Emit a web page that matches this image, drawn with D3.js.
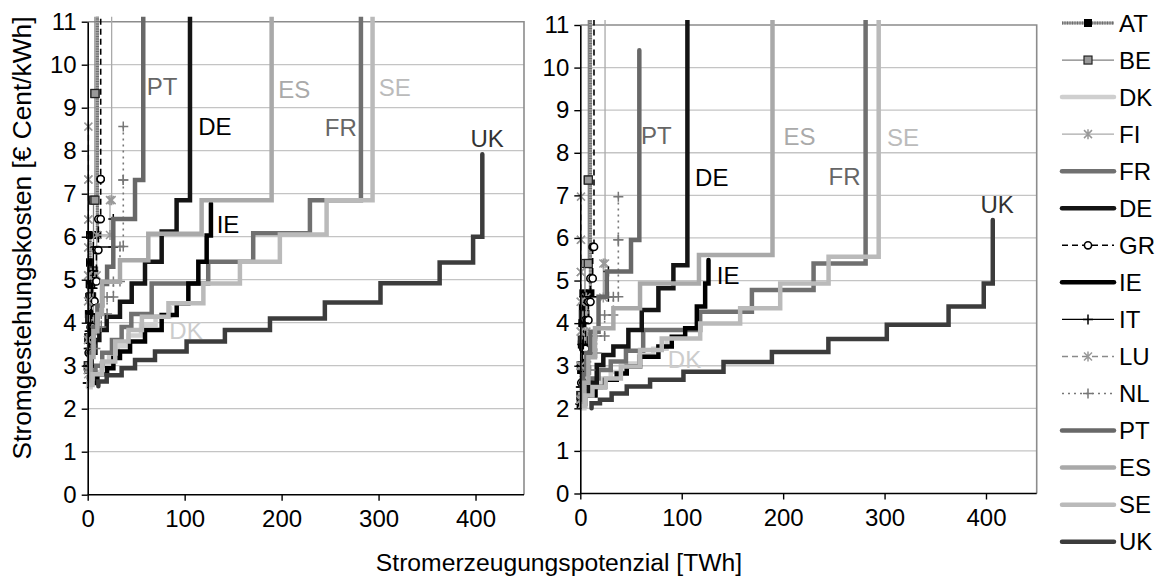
<!DOCTYPE html>
<html>
<head>
<meta charset="utf-8">
<script src="https://cdn.jsdelivr.net/npm/d3@7"></script>
<style>
body{margin:0;background:#fff;}
text{font-family:"Liberation Sans",Arial,sans-serif;}
</style>
</head>
<body>
<svg id="chart" width="1165" height="578"></svg>
<script>
const countries = ["AT","BE","DK","FI","FR","DE","GR","IE","IT","LU","NL","PT","ES","SE","UK"];
const yTicks = [0,1,2,3,4,5,6,7,8,9,10,11];
const xTicks = [0,100,200,300,400];

// step points [TWh, cost]: horizontal first, then the riser up to the next cost
// left panel
const AT_L = [[0.3,2.9],[0.8,3.6],[1.2,4.2],[1.6,4.6],[2,4.9],[2.4,5.4],[2.4,6.04],[10,12]];
const BE_L = [[0.5,3.0],[1,3.65],[2,4.1],[3,4.6],[4,5.2],[6,6.85],[7.5,9.33],[7.5,12]];
const DK_L = [[0,2.5],[3,2.65],[8,2.85],[14,3.05],[22,3.25],[31,3.45],[42,3.7],[55,3.95],[70,4.15],[85,4.35]];
const FI_L = [[0.5,2.8],[3,3.8],[6,5.1],[9.3,6.04],[23,6.85],[24.7,12]];
const FR_L = [[2,2.7],[8,3.0],[15,3.3],[25,3.6],[35,3.9],[45,4.2],[66,4.91],[124.3,5.42],[170.7,6.08],[229.2,6.85],[281.8,12]];
const DE_L = [[1,3.0],[4,3.3],[8,3.6],[12,3.83],[19.6,4.14],[33.3,4.49],[45.4,4.91],[59.1,5.42],[76.3,6.12],[91.7,6.85],[105.5,12]];
const GR_L = [[1,3.3],[3,3.9],[5,4.5],[7,4.96],[9,5.69],[11,6.41],[13.4,7.34],[13.4,12]];
const IE_L = [[3,2.6],[10,2.8],[20,2.94],[26.5,3.18],[33.3,3.33],[43.7,3.56],[59.1,3.83],[76.3,4.18],[91.8,4.45],[103.8,4.91],[114.1,5.42],[122.7,6.03],[127.1,6.78]];
const IT_L = [[0,2.6],[0.5,3.0],[1,3.4],[2,3.8],[3,4.2],[4,4.8],[5,5.2],[5.8,5.76],[26.4,6.41]];
const LU_L = [[0,2.9],[0.3,3.6],[0.5,4.5],[0.5,5.1],[0.6,5.75],[0.6,6.4],[0.7,7.33],[0.7,8.56]];
const NL_L = [[1,2.9],[4,3.4],[8,3.9],[14,4.2],[20,4.6],[26.5,4.96],[33.3,5.77],[36.7,7.32],[36.7,8.56]];
const PT_L = [[1,2.7],[3,3.3],[6,3.9],[10,4.4],[15,4.9],[20,5.3],[26.4,6.41],[48.8,7.32],[57.3,12]];
const ES_L = [[0.5,2.6],[3,3.2],[6,3.8],[10,4.2],[14.7,4.95],[33.3,5.45],[62.5,6.07],[117.5,6.85],[189.7,12]];
const SE_L = [[1,2.55],[5,2.8],[15,3.1],[28.4,3.56],[42.1,3.83],[55.9,4.14],[83.3,4.45],[119.3,4.91],[157,5.42],[198.2,6.05],[246.4,6.85],[293.8,12]];
const UK_L = [[11,2.52],[11,2.63],[19.6,2.78],[35,2.94],[48.8,3.13],[69.4,3.33],[102,3.56],[141.5,3.83],[188,4.1],[244.6,4.47],[302,4.92],[363,5.4],[397.5,6.0],[407,7.92]];

// right panel
const AT_R = [[0.3,2.1],[0.8,2.9],[1.5,3.5],[2,4.0],[2.5,4.4],[3,4.7],[10,12]];
const BE_R = [[0.5,2.3],[1,3.0],[2,3.6],[3,4.2],[4.6,5.4],[7.9,7.36],[7.9,12]];
const DK_R = [[0,2.0],[4,2.3],[10,2.5],[20,2.7],[30,2.85],[45,3.05],[58,3.25],[72,3.4],[85,3.6]];
const FI_R = [[0.5,2.2],[2,3.0],[4,3.8],[6,4.6],[22.7,5.4],[24.4,12]];
const FR_R = [[1,2.1],[5,2.4],[10,2.7],[18,2.9],[30,3.1],[45,3.35],[62,3.84],[118.2,4.27],[169.2,4.78],[230,5.4],[281.3,12]];
const DE_R = [[2,2.3],[8,2.6],[16.2,3.02],[22.7,3.25],[32.6,3.45],[47.4,3.84],[60.6,4.31],[77,4.82],[91.8,5.36],[105.6,12]];
const GR_R = [[1,2.6],[3,3.4],[5,4.07],[8,4.5],[10,5.05],[12.2,5.79],[13.5,12]];
const IE_R = [[5,2.3],[15,2.5],[24.4,2.67],[35.9,2.82],[45.8,2.98],[58.9,3.21],[77,3.45],[90.2,3.68],[103.4,3.88],[114.9,4.39],[123.1,4.93],[126.4,5.48]];
const IT_R = [[0,2.1],[0.5,2.5],[1,3.0],[2,3.5],[3,4.0],[4,4.62],[27.7,5.21]];
const LU_R = [[0,2.2],[0.3,3.0],[0.4,3.8],[0.5,4.5],[0.5,5.2],[0.6,5.96],[0.7,6.97]];
const NL_R = [[1,2.3],[5,2.9],[10,3.3],[16,3.7],[24,4.19],[32.6,4.62],[37.5,5.96],[37.5,6.97]];
const PT_R = [[1,2.2],[3,2.8],[6,3.3],[10,3.8],[18,4.62],[26,5.21],[50,5.95],[58.2,10.41]];
const ES_R = [[1,2.1],[4,2.6],[8,3.2],[14.5,3.88],[32.6,4.35],[58.9,4.93],[117,5.6],[189.5,12]];
const SE_R = [[1,2.05],[5,2.3],[12,2.5],[25,2.7],[40,2.98],[58.9,3.37],[80.3,3.64],[118.2,3.99],[157.6,4.35],[197.1,4.93],[244.8,5.56],[294.2,12]];
const UK_R = [[11.1,2.0],[11.1,2.12],[19.4,2.2],[30.9,2.35],[45.8,2.51],[68.8,2.67],[101.7,2.86],[141.2,3.09],[188.9,3.32],[244.6,3.63],[302.2,3.96],[363.1,4.39],[397.8,4.93],[406.7,6.42]];

// in-plot country labels [name, TWh, cost]
const labelsL = [["PT",60.8,9.3],["DE",114,8.37],["ES",196.5,9.22],["SE",300.3,9.27],["FR",244.6,8.34],["UK",394.8,8.09],["IE",133,6.09],["DK",84.2,3.62]];
const labelsR = [["PT",59.9,8.2],["DE",113.2,7.23],["ES",200.4,8.19],["SE",302.4,8.16],["FR",244.8,7.24],["UK",394.6,6.59],["IE",134.6,4.91],["DK",86.3,2.94]];

const seriesL = {AT:AT_L,BE:BE_L,DK:DK_L,FI:FI_L,FR:FR_L,DE:DE_L,GR:GR_L,IE:IE_L,IT:IT_L,LU:LU_L,NL:NL_L,PT:PT_L,ES:ES_L,SE:SE_L,UK:UK_L};
const seriesR = {AT:AT_R,BE:BE_R,DK:DK_R,FI:FI_R,FR:FR_R,DE:DE_R,GR:GR_R,IE:IE_R,IT:IT_R,LU:LU_R,NL:NL_R,PT:PT_R,ES:ES_R,SE:SE_R,UK:UK_R};

const style = {
	AT:{color:"#a0a0a0",width:3.2,dash:null,marker:"sqBlack",hatch:true},
	BE:{color:"#808080",width:1.3,dash:null,marker:"sqGray"},
	DK:{color:"#cfcfcf",width:4.5,dash:null},
	FI:{color:"#aaaaaa",width:1.3,dash:null,marker:"star"},
	FR:{color:"#707070",width:4.5,dash:null},
	DE:{color:"#141414",width:4.5,dash:null},
	GR:{color:"#000000",width:1.6,dash:"6,4",marker:"circle"},
	IE:{color:"#000000",width:4.5,dash:null},
	IT:{color:"#000000",width:1.3,dash:null,marker:"plus"},
	LU:{color:"#8a8a8a",width:1.6,dash:"6,4",marker:"star"},
	NL:{color:"#777777",width:1.6,dash:"2,4",marker:"plus"},
	PT:{color:"#686868",width:4.5,dash:null},
	ES:{color:"#a9a9a9",width:4.5,dash:null},
	SE:{color:"#bababa",width:4.5,dash:null},
	UK:{color:"#3c3c3c",width:4.5,dash:null}
};
const labelColor = {PT:"#666",DE:"#000",ES:"#aaa",SE:"#bbb",FR:"#666",UK:"#333",IE:"#000",DK:"#ccc"};

const svg = d3.select("#chart");
const fontSize = 24;

const addMarker = (g,type,px,py) => {
	if(!type) return;
	if(type === "sqBlack"){
		g.append("rect").attr("x",px-4).attr("y",py-4).attr("width",8).attr("height",8).attr("fill","#000");
	} else if(type === "sqGray"){
		g.append("rect").attr("x",px-4).attr("y",py-4).attr("width",8).attr("height",8)
			.attr("fill","#999").attr("stroke","#222").attr("stroke-width",1.2);
	} else if(type === "circle"){
		g.append("circle").attr("cx",px).attr("cy",py).attr("r",3.6)
			.attr("fill","#fff").attr("stroke","#000").attr("stroke-width",1.6);
	} else if(type === "star"){
		g.append("path").attr("d",`M${px-4},${py-4}L${px+4},${py+4}M${px-4},${py+4}L${px+4},${py-4}M${px},${py-5}V${py+5}`)
			.attr("stroke","#999").attr("stroke-width",1.5).attr("fill","none");
	} else if(type === "plus"){
		g.append("path").attr("d",`M${px-5},${py}H${px+5}M${px},${py-5}V${py+5}`)
			.attr("stroke",g.attr("data-col")).attr("stroke-width",1.5).attr("fill","none");
	}
}

const drawPanel = (p) => {
	let x = d3.scaleLinear().domain([0,450]).range([p.left,p.right]);
	let y = d3.scaleLinear().domain([0,11]).range([p.bottom,p.top]);
	let g = svg.append("g");

	// grid lines
	g.selectAll("line.grid").data(yTicks.filter(d => d > 0 && d < 11)).join("line")
		.attr("x1",p.left).attr("x2",p.right)
		.attr("y1",d => y(d)).attr("y2",d => y(d))
		.attr("stroke","#c4c4c4").attr("stroke-width",1.3);
	g.append("path")
		.attr("d",`M${p.left},${p.top}H${p.right}V${p.bottom}`)
		.attr("fill","none").attr("stroke","#8c8c8c").attr("stroke-width",1.6);

	// clip slightly above the plot top, as in the original
	svg.append("clipPath").attr("id","clip"+p.id)
		.append("rect").attr("x",p.left - 12).attr("y",p.top - 5)
		.attr("width",p.right - p.left + 12).attr("height",p.bottom - p.top + 12);

	let line = d3.line().x(d => x(d[0])).y(d => y(d[1])).curve(d3.curveStepAfter);
	let lines = g.append("g").attr("clip-path",`url(#clip${p.id})`);
	countries.forEach(c => {
		let s = style[c];
		let pts = p.series[c];
		let sg = lines.append("g").attr("data-col",s.color);
		sg.append("path").datum(pts).attr("d",line)
			.attr("fill","none").attr("stroke",s.color).attr("stroke-width",s.width)
			.attr("stroke-dasharray",s.dash).attr("stroke-linejoin","miter")
			.attr("stroke-linecap",s.width > 3 && !s.hatch ? "round" : "butt");
		if(s.hatch){
			sg.append("path").datum(pts).attr("d",line)
				.attr("fill","none").attr("stroke","#6e6e6e").attr("stroke-width",s.width)
				.attr("stroke-dasharray","1,1.5");
		}
		if(s.marker){
			// markers at both corners of every step
			pts.forEach((d,i) => {
				if(i > 0 && pts[i-1][1] <= 11) addMarker(sg,s.marker,x(d[0]),y(pts[i-1][1]));
				if(d[1] <= 11) addMarker(sg,s.marker,x(d[0]),y(d[1]));
			});
		}
	});

	// axes
	let yAxis = d3.axisLeft(y).tickValues(yTicks).tickSize(6).tickSizeOuter(0).tickPadding(5);
	let ya = g.append("g").attr("transform",`translate(${p.left},0)`).call(yAxis);
	let xAxis = d3.axisBottom(x).tickValues(xTicks).tickSize(6).tickSizeOuter(0).tickPadding(9);
	let xa = g.append("g").attr("transform",`translate(0,${p.bottom})`).call(xAxis);
	[ya,xa].forEach(a => {
		a.selectAll("path.domain").attr("stroke","#000").attr("stroke-width",1.6);
		a.selectAll(".tick line").attr("stroke","#000").attr("stroke-width",1.4);
		a.selectAll(".tick text").attr("font-size",fontSize).attr("fill","#000")
			.attr("font-family","'Liberation Sans',Arial,sans-serif");
	});
	// x domain line runs to the right edge
	xa.select("path.domain").attr("d",`M${p.left},0H${p.right}`);

	// country labels
	g.selectAll("text.lab").data(p.labels).join("text")
		.attr("x",d => x(d[1])).attr("y",d => y(d[2]))
		.attr("font-size",fontSize).attr("fill",d => labelColor[d[0]])
		.text(d => d[0]);
}

drawPanel({id:"L",left:87.7,right:524,top:21.7,bottom:494.7,series:seriesL,labels:labelsL});
drawPanel({id:"R",left:580.3,right:1036.7,top:25,bottom:493.5,series:seriesR,labels:labelsR});

// axis titles
svg.append("text").attr("x",559).attr("y",571).attr("text-anchor","middle")
	.attr("font-size",24.7).text("Stromerzeugungspotenzial [TWh]");
svg.append("text").attr("transform","translate(31,238) rotate(-90)").attr("text-anchor","middle")
	.attr("font-size",26.3).text("Stromgestehungskosten [€ Cent/kWh]");

// legend
let leg = svg.append("g");
countries.forEach((c,i) => {
	let s = style[c];
	let ly = 23 + i*37.05;
	let lg = leg.append("g").attr("data-col",s.color);
	lg.append("line").attr("x1",1062).attr("x2",1114).attr("y1",ly).attr("y2",ly)
		.attr("stroke",s.color).attr("stroke-width",s.width).attr("stroke-dasharray",s.dash)
		.attr("stroke-linecap",s.width > 3 && !s.hatch ? "round" : "butt");
	if(s.hatch){
		lg.append("line").attr("x1",1062).attr("x2",1114).attr("y1",ly).attr("y2",ly)
			.attr("stroke","#6e6e6e").attr("stroke-width",s.width).attr("stroke-dasharray","1,1.5");
	}
	addMarker(lg,s.marker,1088,ly);
	lg.append("text").attr("x",1119).attr("y",ly).attr("dy","0.36em")
		.attr("font-size",fontSize).text(c);
});
</script>
</body>
</html>
